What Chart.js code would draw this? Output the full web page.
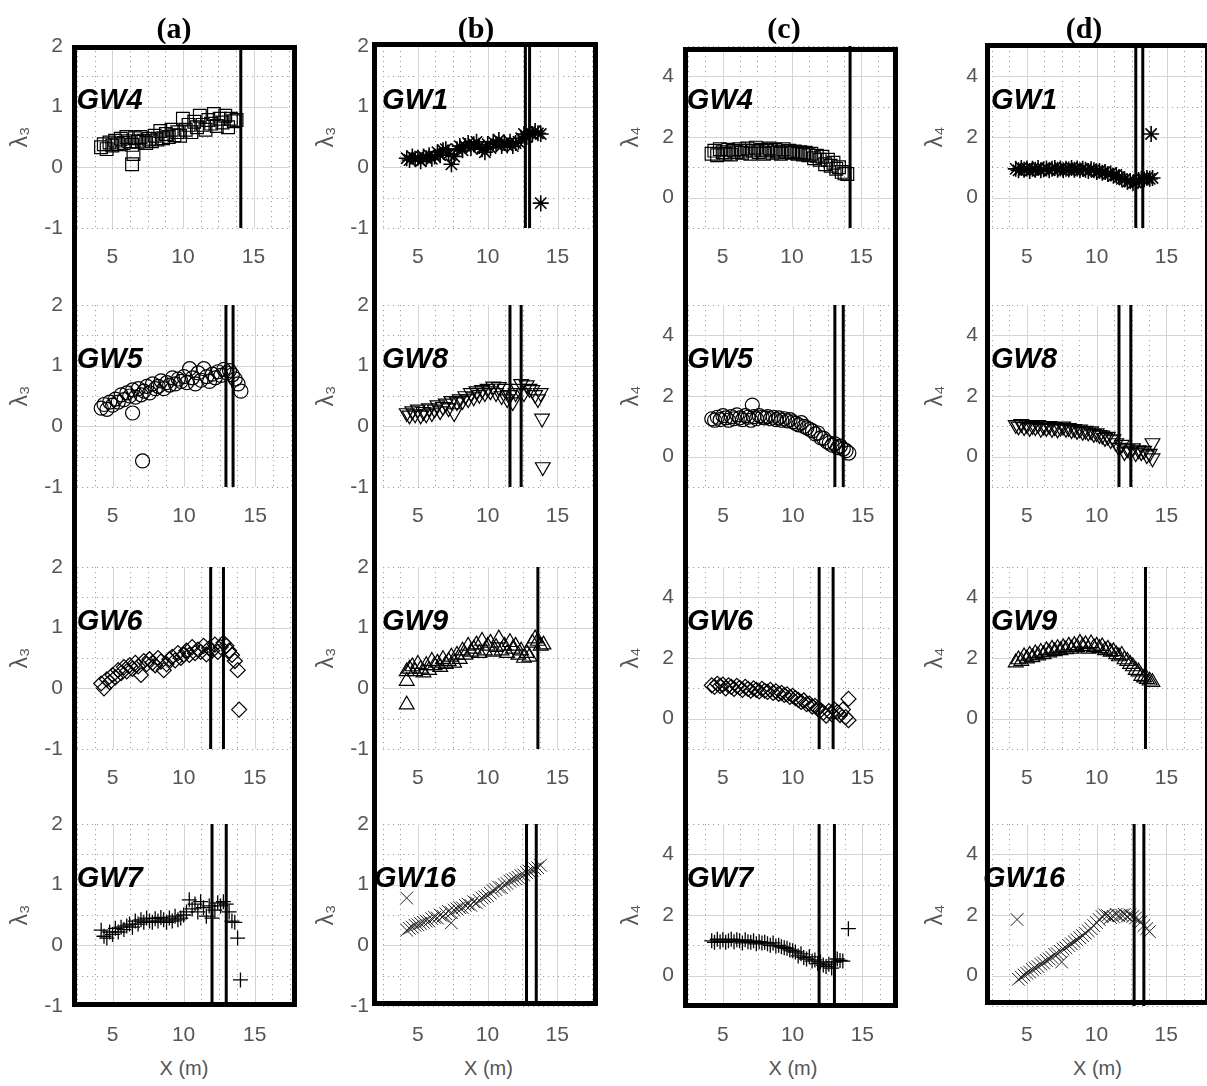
<!DOCTYPE html>
<html>
<head>
<meta charset="utf-8">
<title>Lambda ratios along X</title>
<script src="https://cdn.jsdelivr.net/npm/chart.js@4.4.1/dist/chart.umd.min.js"></script>
<style>
  body { margin: 0; background: #fff; }
  #fig { position: relative; width: 1207px; height: 1086px; overflow: hidden; background: #fff; }
  #fig canvas { position: absolute; }
  .panel-title { position: absolute; width: 100px; text-align: center; font: bold 30px 'Liberation Serif', 'Times New Roman', serif; line-height: 30px; color: #000; }
  .xlabel { position: absolute; width: 120px; text-align: center; font: 20px 'Liberation Sans', Arial, sans-serif; line-height: 20px; color: #555; }
  .colbox { position: absolute; border: 5px solid #000; box-sizing: border-box; pointer-events: none; }
</style>
</head>
<body>
<div id="fig"></div>
<script>
// axis ticks
const xTicks = [5, 10, 15];
const xMinorTicks = [2.5, 3.75, 6.25, 7.5, 8.75, 11.25, 12.5, 13.75, 16.25, 17.5];
const lambda3Ticks = [-1, 0, 1, 2];
const lambda3Minor = [-1, -0.5, 0.5, 1.5, 2];
const lambda4Ticks = [0, 2, 4];
const lambda4Minor = [-1, 1, 3, 5];

// x positions shared by all series (m)
const xGrid = [4.2, 4.4, 4.6, 4.8, 5.0, 5.2, 5.4, 5.6, 5.8, 6.0,
    6.2, 6.4, 6.6, 6.8, 7.0, 7.2, 7.4, 7.6, 7.8, 8.0,
    8.2, 8.4, 8.6, 8.8, 9.0, 9.2, 9.4, 9.6, 9.8, 10.0,
    10.2, 10.4, 10.6, 10.8, 11.0, 11.2, 11.4, 11.6, 11.8, 12.0,
    12.2, 12.4, 12.6, 12.8, 13.0, 13.2, 13.4, 13.6, 13.8, 14.0];

// (a) lambda3
const a_GW4 = [0.33, 0.38, 0.30, 0.41, 0.36, 0.44, 0.38, 0.47, 0.40, 0.50,
    0.43, 0.37, 0.48, 0.42, 0.50, 0.44, 0.40, 0.47, 0.43, 0.52,
    0.46, 0.60, 0.48, 0.55, 0.50, 0.62, 0.53, 0.58, 0.52, 0.80,
    0.62, 0.70, 0.58, 0.75, 0.66, 0.85, 0.70, 0.62, 0.78, 0.72,
    0.88, 0.68, 0.80, 0.74, 0.85, 0.66, 0.80, 0.76, 0.78, null];
const a_GW4_out = [[6.4, 0.05], [6.5, 0.22]];
const a_GW4_lines = [14.1];

const a_GW5 = [0.30, 0.36, 0.28, 0.40, 0.35, 0.45, 0.40, 0.52, 0.44, 0.55,
    0.50, 0.60, 0.48, 0.62, 0.52, 0.58, 0.66, 0.55, 0.70, 0.62,
    0.66, 0.75, 0.62, 0.72, 0.68, 0.80, 0.70, 0.78, 0.74, 0.82,
    0.72, 0.95, 0.80, 0.70, 0.88, 0.76, 0.95, 0.82, 0.74, 0.86,
    0.80, 0.90, 0.84, 0.94, 0.88, 0.92, 0.85, 0.78, 0.70, 0.58];
const a_GW5_out = [[6.4, 0.22], [7.1, -0.57]];
const a_GW5_lines = [12.95, 13.45];

const a_GW6 = [0.08, 0.00, 0.15, 0.10, 0.22, 0.18, 0.30, 0.25, 0.35, 0.28,
    0.38, 0.32, 0.42, 0.36, 0.22, 0.45, 0.40, 0.48, 0.42, 0.38,
    0.50, 0.44, 0.30, 0.40, 0.48, 0.52, 0.46, 0.58, 0.50, 0.55,
    0.62, 0.55, 0.68, 0.58, 0.64, 0.60, 0.70, 0.56, 0.66, 0.62,
    0.72, 0.60, 0.68, 0.75, 0.70, 0.62, 0.55, 0.45, 0.30, null];
const a_GW6_out = [[13.9, -0.35]];
const a_GW6_lines = [11.9, 12.8];

const a_GW7 = [0.25, 0.15, 0.12, 0.22, 0.18, 0.28, 0.22, 0.30, 0.26, 0.32,
    0.35, 0.30, 0.40, 0.35, 0.42, 0.38, 0.45, 0.40, 0.38, 0.44,
    0.40, 0.46, 0.42, 0.38, 0.45, 0.40, 0.48, 0.42, 0.45, 0.50,
    0.55, 0.75, 0.60, 0.68, 0.55, 0.72, 0.62, 0.48, 0.65, 0.45,
    0.58, 0.70, 0.65, 0.72, 0.68, 0.55, 0.40, 0.38, 0.12, null];
const a_GW7_out = [[14.0, -0.57]];
const a_GW7_lines = [12.0, 13.0];

// (b) lambda3
const b_GW1 = [0.15, 0.12, 0.18, 0.14, 0.16, 0.10, 0.18, 0.15, 0.20, 0.14,
    0.18, 0.25, 0.20, 0.28, 0.30, 0.22, 0.05, 0.18, 0.30, 0.35,
    0.28, 0.35, 0.40, 0.32, 0.38, 0.42, 0.35, 0.30, 0.25, 0.38,
    0.32, 0.42, 0.38, 0.45, 0.35, 0.40, 0.36, 0.42, 0.35, 0.40,
    0.42, 0.48, 0.55, 0.50, 0.58, 0.55, 0.60, 0.56, 0.55, null];
const b_GW1_out = [[13.8, -0.59]];
const b_GW1_lines = [12.7, 13.0];

const b_GW8 = [0.22, 0.18, 0.25, 0.20, 0.28, 0.18, 0.24, 0.20, 0.30, 0.22,
    0.28, 0.35, 0.25, 0.32, 0.38, 0.30, 0.42, 0.22, 0.40, 0.45,
    0.42, 0.50, 0.45, 0.55, 0.48, 0.58, 0.52, 0.60, 0.55, 0.62,
    0.58, 0.66, 0.55, 0.65, 0.50, 0.62, 0.45, 0.52, 0.40, 0.55,
    0.62, 0.70, 0.55, 0.68, 0.62, 0.60, 0.52, 0.45, 0.55, null];
const b_GW8_out = [[13.9, 0.13], [13.95, -0.67]];
const b_GW8_lines = [11.6, 12.4];

const b_GW9 = [0.28, 0.32, 0.36, 0.28, 0.40, 0.32, 0.26, 0.38, 0.30, 0.45,
    0.38, 0.42, 0.35, 0.48, 0.40, 0.45, 0.52, 0.42, 0.55, 0.48,
    0.62, 0.55, 0.70, 0.60, 0.65, 0.72, 0.58, 0.78, 0.62, 0.70,
    0.75, 0.60, 0.68, 0.82, 0.62, 0.70, 0.58, 0.76, 0.65, 0.70,
    0.55, 0.62, 0.50, 0.58, 0.52, 0.75, 0.82, 0.78, 0.70, 0.72];
const b_GW9_out = [[4.2, 0.12], [4.2, -0.27]];
const b_GW9_lines = [13.6];

const b_GW16 = [0.25, 0.28, 0.30, 0.33, 0.34, 0.36, 0.38, 0.40, 0.40, 0.44,
    0.46, 0.45, 0.50, 0.48, 0.52, 0.56, 0.54, 0.58, 0.60, 0.62,
    0.62, 0.66, 0.68, 0.66, 0.72, 0.70, 0.74, 0.78, 0.80, 0.82,
    0.86, 0.90, 0.92, 0.96, 0.95, 1.00, 1.02, 1.06, 1.08, 1.10,
    1.12, 1.15, 1.16, 1.20, 1.22, 1.24, 1.26, 1.28, 1.32, null];
const b_GW16_out = [[4.2, 0.78], [7.4, 0.37]];
const b_GW16_lines = [12.8, 13.5];

// (c) lambda4
const c_GW4 = [1.45, 1.55, 1.40, 1.60, 1.50, 1.45, 1.58, 1.42, 1.55, 1.50,
    1.60, 1.48, 1.55, 1.62, 1.45, 1.55, 1.65, 1.50, 1.58, 1.45,
    1.55, 1.62, 1.48, 1.58, 1.52, 1.45, 1.60, 1.50, 1.55, 1.48,
    1.52, 1.45, 1.50, 1.42, 1.48, 1.40, 1.45, 1.30, 1.38, 1.25,
    1.35, 1.10, 1.25, 1.05, 1.15, 0.95, 1.00, 0.85, 0.80, 0.78];
const c_GW4_out = [];
const c_GW4_lines = [14.2];

const c_GW5 = [1.25, 1.20, 1.30, 1.22, 1.35, 1.28, 1.20, 1.32, 1.25, 1.38,
    1.28, 1.22, 1.35, 1.30, 1.20, 1.32, 1.25, 1.35, 1.30, 1.28,
    1.32, 1.25, 1.30, 1.22, 1.28, 1.20, 1.25, 1.18, 1.22, 1.15,
    1.10, 1.05, 1.12, 1.00, 0.95, 0.90, 0.85, 0.75, 0.78, 0.62,
    0.60, 0.50, 0.45, 0.38, 0.42, 0.30, 0.35, 0.25, 0.20, 0.12];
const c_GW5_out = [[7.1, 1.7]];
const c_GW5_lines = [13.0, 13.6];

const c_GW6 = [1.10, 1.05, 1.15, 1.08, 1.12, 1.00, 1.10, 1.05, 0.98, 1.08,
    1.02, 0.95, 1.05, 0.98, 0.92, 1.00, 0.95, 0.90, 0.98, 0.92,
    0.88, 0.95, 0.85, 0.90, 0.82, 0.85, 0.78, 0.80, 0.72, 0.75,
    0.68, 0.62, 0.55, 0.60, 0.48, 0.50, 0.40, 0.42, 0.32, 0.28,
    0.20, 0.10, 0.25, 0.15, 0.30, 0.22, 0.12, 0.30, 0.05, -0.05];
const c_GW6_out = [[14.0, 0.65]];
const c_GW6_lines = [11.9, 12.9];

const c_GW7 = [1.15, 1.10, 1.20, 1.12, 1.18, 1.10, 1.15, 1.20, 1.12, 1.18,
    1.15, 1.08, 1.18, 1.12, 1.10, 1.15, 1.05, 1.12, 1.08, 1.10,
    1.05, 1.00, 1.08, 0.98, 1.00, 0.95, 0.92, 0.90, 0.85, 0.82,
    0.78, 0.65, 0.72, 0.60, 0.55, 0.62, 0.48, 0.52, 0.40, 0.45,
    0.35, 0.30, 0.38, 0.25, 0.45, 0.55, 0.50, 0.48, null, null];
const c_GW7_out = [[14.0, 1.55]];
const c_GW7_lines = [11.9, 13.0];

// (d) lambda4
const d_GW1 = [0.95, 0.90, 0.98, 0.92, 0.96, 0.88, 0.95, 0.92, 0.98, 0.90,
    0.94, 0.96, 0.90, 0.95, 0.98, 0.92, 0.96, 0.90, 0.95, 0.93,
    0.98, 0.92, 0.96, 0.90, 0.95, 0.92, 0.88, 0.94, 0.90, 0.85,
    0.88, 0.82, 0.85, 0.78, 0.80, 0.72, 0.75, 0.68, 0.62, 0.60,
    0.52, 0.55, 0.48, 0.50, 0.58, 0.62, 0.60, 0.65, 0.62, 0.65];
const d_GW1_out = [[13.9, 2.1]];
const d_GW1_lines = [12.8, 13.3];

const d_GW8 = [1.05, 1.00, 1.08, 0.98, 1.05, 0.95, 1.02, 0.98, 1.05, 0.92,
    1.00, 0.95, 1.02, 0.92, 0.98, 0.90, 0.96, 1.00, 0.92, 0.95,
    0.88, 0.92, 0.85, 0.90, 0.82, 0.86, 0.80, 0.84, 0.75, 0.78,
    0.72, 0.70, 0.62, 0.66, 0.55, 0.58, 0.45, 0.30, 0.40, 0.15,
    0.25, 0.18, 0.28, 0.12, 0.22, 0.15, 0.20, 0.05, 0.10, -0.05];
const d_GW8_out = [[14.0, 0.45]];
const d_GW8_lines = [11.6, 12.45];

const d_GW9 = [1.85, 1.95, 1.90, 2.05, 1.98, 2.10, 2.02, 2.15, 2.08, 2.20,
    2.12, 2.25, 2.18, 2.30, 2.22, 2.32, 2.25, 2.35, 2.28, 2.40,
    2.30, 2.42, 2.35, 2.50, 2.38, 2.45, 2.30, 2.48, 2.35, 2.40,
    2.32, 2.38, 2.25, 2.30, 2.20, 2.22, 2.12, 2.05, 2.10, 1.95,
    1.90, 1.80, 1.72, 1.60, 1.55, 1.40, 1.35, 1.30, 1.25, 1.20];
const d_GW9_out = [];
const d_GW9_lines = [13.5];

const d_GW16 = [null, -0.12, -0.05, 0.02, 0.08, 0.12, 0.20, 0.25, 0.30, 0.38,
    0.42, 0.50, 0.55, 0.60, 0.70, 0.72, 0.80, 0.88, 0.92, 1.00,
    1.05, 1.12, 1.18, 1.25, 1.32, 1.40, 1.48, 1.55, 1.65, 1.75,
    1.85, 1.95, 2.00, 1.98, 1.92, 1.95, 2.02, 1.98, 2.00, 2.02,
    1.96, 2.00, 1.95, 1.90, 1.82, 1.78, 1.65, 1.55, 1.45, null];
const d_GW16_out = [[4.3, 1.85], [7.5, 0.45]];
const d_GW16_lines = [12.7, 13.4];

// layout of the four columns
const columns = [
    { title: '(a)', titleX: 174, plotLeft: 77, plotWidth: 214, box: [72, 45, 297, 1007], kind: 3 },
    { title: '(b)', titleX: 476, plotLeft: 383, plotWidth: 211, box: [372, 42, 598, 1006], kind: 3 },
    { title: '(c)', titleX: 784, plotLeft: 688, plotWidth: 210, box: [683, 47, 898, 1008], kind: 4 },
    { title: '(d)', titleX: 1084, plotLeft: 992, plotWidth: 211, box: [985, 43, 1210, 1005], kind: 4 }
];
const rowTop = [46, 305, 567, 824];
const plotHeight = 182;

const markers = {
    square: { pointStyle: 'rect', radius: 9, rotation: 0, width: 1.2 },
    circle: { pointStyle: 'circle', radius: 7, rotation: 0, width: 1.2 },
    diamond: { pointStyle: 'rectRot', radius: 7.5, rotation: 0, width: 1.2 },
    plus: { pointStyle: 'cross', radius: 7.5, rotation: 0, width: 1.3 },
    star: { pointStyle: 'star', radius: 8, rotation: 0, width: 1.6 },
    triUp: { pointStyle: 'triangle', radius: 8.5, rotation: 0, width: 1.2 },
    triDown: { pointStyle: 'triangle', radius: 8.5, rotation: 180, width: 1.2 },
    cross: { pointStyle: 'crossRot', radius: 9, rotation: 0, width: 1 }
};

const panels = [
    { col: 0, row: 0, name: 'GW4', marker: 'square', y: a_GW4, out: a_GW4_out, lines: a_GW4_lines },
    { col: 0, row: 1, name: 'GW5', marker: 'circle', y: a_GW5, out: a_GW5_out, lines: a_GW5_lines },
    { col: 0, row: 2, name: 'GW6', marker: 'diamond', y: a_GW6, out: a_GW6_out, lines: a_GW6_lines },
    { col: 0, row: 3, name: 'GW7', marker: 'plus', y: a_GW7, out: a_GW7_out, lines: a_GW7_lines },
    { col: 1, row: 0, name: 'GW1', marker: 'star', y: b_GW1, out: b_GW1_out, lines: b_GW1_lines },
    { col: 1, row: 1, name: 'GW8', marker: 'triDown', y: b_GW8, out: b_GW8_out, lines: b_GW8_lines },
    { col: 1, row: 2, name: 'GW9', marker: 'triUp', y: b_GW9, out: b_GW9_out, lines: b_GW9_lines },
    { col: 1, row: 3, name: 'GW16', marker: 'cross', y: b_GW16, out: b_GW16_out, lines: b_GW16_lines },
    { col: 2, row: 0, name: 'GW4', marker: 'square', y: c_GW4, out: c_GW4_out, lines: c_GW4_lines },
    { col: 2, row: 1, name: 'GW5', marker: 'circle', y: c_GW5, out: c_GW5_out, lines: c_GW5_lines },
    { col: 2, row: 2, name: 'GW6', marker: 'diamond', y: c_GW6, out: c_GW6_out, lines: c_GW6_lines },
    { col: 2, row: 3, name: 'GW7', marker: 'plus', y: c_GW7, out: c_GW7_out, lines: c_GW7_lines },
    { col: 3, row: 0, name: 'GW1', marker: 'star', y: d_GW1, out: d_GW1_out, lines: d_GW1_lines },
    { col: 3, row: 1, name: 'GW8', marker: 'triDown', y: d_GW8, out: d_GW8_out, lines: d_GW8_lines },
    { col: 3, row: 2, name: 'GW9', marker: 'triUp', y: d_GW9, out: d_GW9_out, lines: d_GW9_lines },
    { col: 3, row: 3, name: 'GW16', marker: 'cross', y: d_GW16, out: d_GW16_out, lines: d_GW16_lines }
];

const sans = "'Liberation Sans', Arial, sans-serif";

// MATLAB-like grid: solid major lines, dotted minor lines and plot edges
const gridPlugin = {
    id: 'matlabGrid',
    beforeDatasetsDraw(chart, args, opts) {
        const { ctx, chartArea: a, scales: { x, y } } = chart;
        const vline = v => { const p = Math.round(x.getPixelForValue(v)) + 0.5; ctx.beginPath(); ctx.moveTo(p, a.top); ctx.lineTo(p, a.bottom); ctx.stroke(); };
        const hline = v => { const p = Math.round(y.getPixelForValue(v)) + 0.5; ctx.beginPath(); ctx.moveTo(a.left, p); ctx.lineTo(a.right, p); ctx.stroke(); };
        ctx.save();
        ctx.lineWidth = 1;
        ctx.strokeStyle = '#a0a0a0';
        ctx.setLineDash([1.2, 3.8]);
        opts.xMinor.forEach(vline);
        opts.yMinor.forEach(hline);
        ctx.setLineDash([]);
        ctx.strokeStyle = '#d4d4d4';
        opts.xMajor.filter(v => v > x.min && v < x.max).forEach(vline);
        opts.yMajor.filter(v => v > y.min && v < y.max).forEach(hline);
        ctx.restore();
    }
};

// well name written inside each plot
const namePlugin = {
    id: 'wellName',
    afterDraw(chart, args, opts) {
        const { ctx, scales: { x, y } } = chart;
        ctx.save();
        ctx.font = 'italic bold 29px ' + sans;
        ctx.fillStyle = '#000';
        ctx.textAlign = 'center';
        ctx.textBaseline = 'alphabetic';
        ctx.fillText(opts.text, x.getPixelForValue(4.8), y.getPixelForValue(opts.yValue) + 2);
        ctx.restore();
    }
};

const fig = document.getElementById('fig');
const padTop = 14, axisW = 80, axisH = 50, padRight = 8;

panels.forEach(p => {
    const col = columns[p.col];
    const isL3 = col.kind === 3;
    const yMin = -1;
    const yMax = isL3 ? 2 : 5;
    const m = markers[p.marker];

    const canvas = document.createElement('canvas');
    canvas.width = axisW + col.plotWidth + padRight;
    canvas.height = padTop + plotHeight + axisH;
    canvas.style.left = (col.plotLeft - axisW) + 'px';
    canvas.style.top = (rowTop[p.row] - padTop) + 'px';
    fig.appendChild(canvas);

    const points = xGrid.map((x, i) => ({ x: x, y: p.y[i] })).filter(pt => pt.y !== null);
    p.out.forEach(o => points.push({ x: o[0], y: o[1] }));

    const lineSets = p.lines.map(v => ({
        data: [{ x: v, y: yMin }, { x: v, y: yMax }],
        showLine: true,
        borderColor: '#000',
        borderWidth: 3,
        pointRadius: 0
    }));

    new Chart(canvas, {
        type: 'scatter',
        data: {
            datasets: lineSets.concat([{
                data: points,
                pointStyle: m.pointStyle,
                pointRadius: m.radius,
                rotation: m.rotation,
                pointBorderColor: p.marker === 'cross' ? '#222' : '#000',
                pointBackgroundColor: 'rgba(0,0,0,0)',
                pointBorderWidth: m.width,
                showLine: false
            }])
        },
        options: {
            responsive: false,
            animation: false,
            devicePixelRatio: 1,
            layout: { padding: { top: padTop, right: padRight, left: 0, bottom: 0 } },
            plugins: {
                legend: { display: false },
                tooltip: { enabled: false },
                matlabGrid: {
                    xMajor: xTicks, xMinor: xMinorTicks,
                    yMajor: isL3 ? lambda3Ticks : lambda4Ticks,
                    yMinor: isL3 ? lambda3Minor : lambda4Minor
                },
                wellName: { text: p.name, yValue: isL3 ? 1 : 3 }
            },
            scales: {
                x: {
                    type: 'linear',
                    min: 2.5,
                    max: 17.5,
                    afterBuildTicks: s => { s.ticks = xTicks.map(v => ({ value: v })); },
                    afterFit: s => { s.height = axisH; s.paddingLeft = 0; s.paddingRight = 0; },
                    grid: { display: false, drawTicks: false },
                    border: { display: false },
                    ticks: { padding: 17, color: '#555', autoSkip: false, maxRotation: 0, font: { family: sans, size: 21 } }
                },
                y: {
                    type: 'linear',
                    min: yMin,
                    max: yMax,
                    afterBuildTicks: s => { s.ticks = (isL3 ? lambda3Ticks : lambda4Ticks).map(v => ({ value: v })); },
                    afterFit: s => { s.width = axisW; s.paddingTop = 0; s.paddingBottom = 0; },
                    grid: { display: false, drawTicks: false },
                    border: { display: false },
                    title: { display: true, text: isL3 ? 'λ₃' : 'λ₄', color: '#555', font: { family: sans, size: 23 }, padding: { top: 10, bottom: 0 } },
                    ticks: { padding: 14, color: '#555', autoSkip: false, font: { family: sans, size: 21 } }
                }
            }
        },
        plugins: [gridPlugin, namePlugin]
    });
});

// column titles, x labels and thick frames
columns.forEach(col => {
    const t = document.createElement('div');
    t.className = 'panel-title';
    t.textContent = col.title;
    t.style.left = (col.titleX - 50) + 'px';
    t.style.top = '13px';
    fig.appendChild(t);

    const xl = document.createElement('div');
    xl.className = 'xlabel';
    xl.textContent = 'X (m)';
    xl.style.left = (col.plotLeft + col.plotWidth / 2 - 60) + 'px';
    xl.style.top = '1058px';
    fig.appendChild(xl);

    const b = document.createElement('div');
    b.className = 'colbox';
    b.style.left = col.box[0] + 'px';
    b.style.top = col.box[1] + 'px';
    b.style.width = (col.box[2] - col.box[0]) + 'px';
    b.style.height = (col.box[3] - col.box[1]) + 'px';
    fig.appendChild(b);
});
</script>
</body>
</html>
